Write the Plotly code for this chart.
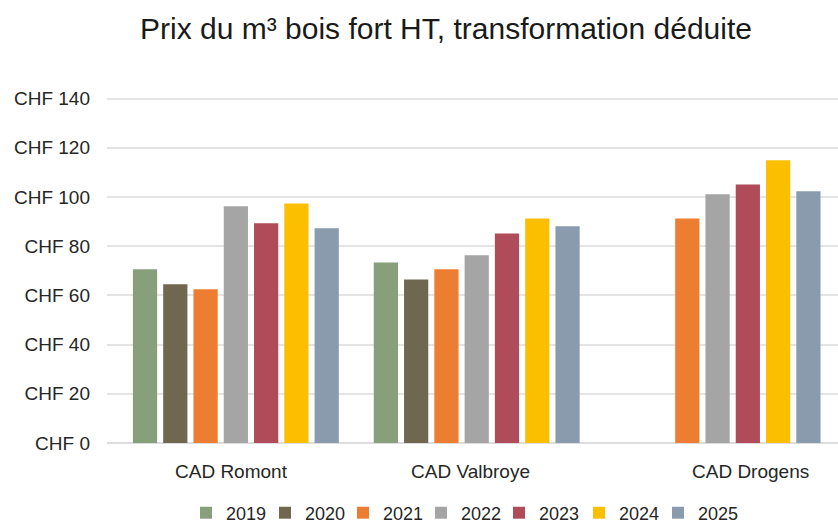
import plotly.graph_objects as go

categories = ["CAD Romont", "CAD Valbroye", "CAD Drogens"]
years = ["2019", "2020", "2021", "2022", "2023", "2024", "2025"]
v2019 = [70.6, 73.4, None]
v2020 = [64.5, 66.5, None]
v2021 = [62.5, 70.6, 91.3]
v2022 = [96.2, 76.3, 101.1]
v2023 = [89.3, 85.2, 105.1]
v2024 = [97.4, 91.3, 114.9]
v2025 = [87.3, 88.1, 102.3]
series = [v2019, v2020, v2021, v2022, v2023, v2024, v2025]
colors = ["#87A07B", "#6F6750", "#ED7D31", "#A5A5A5", "#B04B59", "#FBBF00", "#899BAC"]
tick_vals = [0, 20, 40, 60, 80, 100, 120, 140]
tick_text = ["CHF " + str(v) for v in tick_vals]
label_shift = [-4, -6, 33]
legend_square_px = [202, 281, 359, 437, 515, 595, 674]

fig = go.Figure()
legend_layout = {}
for i, (y, vals, c) in enumerate(zip(years, series, colors)):
    lname = "legend" if i == 0 else "legend%d" % (i + 1)
    fig.add_trace(go.Bar(name=y, x=categories, y=vals, legend=lname,
                         marker=dict(color=c, line=dict(width=0))))
    legend_layout[lname] = dict(orientation="h", xref="container",
                                x=(legend_square_px[i] - 16) / 838, xanchor="left",
                                yref="container", y=10 / 523, yanchor="middle",
                                font=dict(size=18), itemwidth=30, bgcolor="rgba(0,0,0,0)")

font_family = "Liberation Sans, Arial, sans-serif"
for cat, sh in zip(categories, label_shift):
    fig.add_annotation(x=cat, y=0, xref="x", yref="y", text=cat, showarrow=False,
                       xanchor="center", yanchor="middle", xshift=sh, yshift=-28,
                       font=dict(size=19, color="#262626"))

fig.update_layout(
    width=838, height=523,
    paper_bgcolor="white", plot_bgcolor="white",
    margin=dict(l=107, r=0, t=90, b=80),
    barmode="group", bargap=0.12, bargroupgap=0.2,
    font=dict(family=font_family, size=19, color="#262626"),
    title=dict(text="Prix du m³ bois fort HT, transformation déduite",
               x=446/838, xanchor="center", y=1 - 28/523, yanchor="middle",
               font=dict(size=30, color="#1a1a1a")),
    showlegend=True,
    xaxis=dict(type="category", range=[-0.535, 2.5], showgrid=False, showline=False,
               ticks="", showticklabels=False, automargin=False, fixedrange=True),
    yaxis=dict(range=[0, 143.5], tickvals=tick_vals, ticktext=tick_text,
               showgrid=True, gridcolor="#E4E4E4", gridwidth=1.5,
               zeroline=True, zerolinecolor="#DDDDDD", zerolinewidth=2,
               showline=False, ticks="", ticklabelstandoff=16, automargin=False,
               tickfont=dict(size=19)),
    **legend_layout,
)

fig.write_html("out.html", config={"displayModeBar": False},
               post_script="document.body.style.margin='0';document.body.style.overflow='hidden';")
